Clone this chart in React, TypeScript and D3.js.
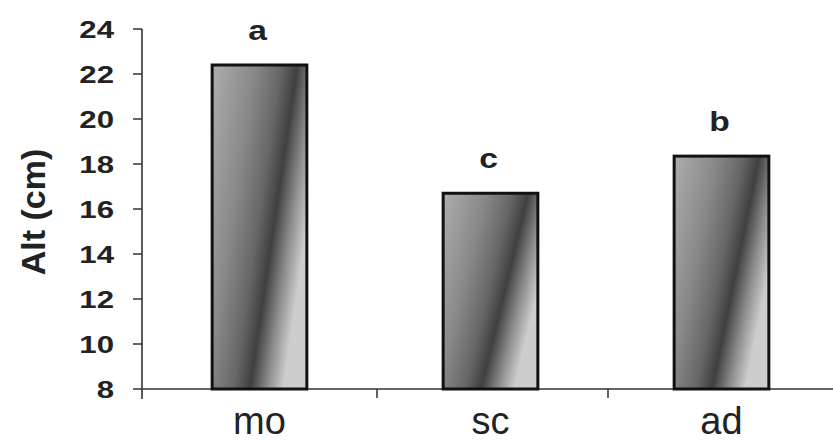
import React from "react";
import * as d3 from "d3";

const categories = ["mo", "sc", "ad"];
const values = [22.4, 16.7, 18.35];
const letters = ["a", "c", "b"];
const yTicks = [8, 10, 12, 14, 16, 18, 20, 22, 24];
const yLabel = "Alt (cm)";

export default function App() {
  const W = 833;
  const H = 445;
  const x0 = 142;
  const x = d3
    .scaleBand<string>()
    .domain(categories)
    .range([x0, x0 + 693])
    .paddingInner(0.59)
    .paddingOuter(0.295);
  const y = d3.scaleLinear().domain([8, 24]).range([389, 29]);
  const step = x.step();
  const font = "'Liberation Sans', Arial, sans-serif";

  return (
    <svg
      width={W}
      height={H}
      style={{ position: "absolute", left: 0, top: 0, background: "#fff" }}
    >
      <defs>
        <linearGradient id="barGrad" x1="0" y1="0" x2="1" y2="0.5">
          <stop offset="0" stopColor="#adadad" />
          <stop offset="0.35" stopColor="#8a8a8a" />
          <stop offset="0.58" stopColor="#676767" />
          <stop offset="0.72" stopColor="#404040" />
          <stop offset="0.86" stopColor="#8a8a8a" />
          <stop offset="1" stopColor="#cdcdcd" />
        </linearGradient>
      </defs>
      {/* y axis */}
      <line x1={x0} x2={x0} y1={y(24)} y2={y(8) + 10} stroke="#333" strokeWidth={1.6} />
      {yTicks.map((t) => (
        <g key={t}>
          <line x1={x0 - 9} x2={x0} y1={y(t)} y2={y(t)} stroke="#333" strokeWidth={1.5} />
          <text
            transform={`translate(${x0 - 28},${y(t)}) scale(1.3,1)`}
            dy="0.36em"
            textAnchor="end"
            fontFamily={font}
            fontSize={24}
            fontWeight="bold"
            fill="#222"
          >
            {t}
          </text>
        </g>
      ))}
      <text
        transform={`translate(45,212) rotate(-90)`}
        textAnchor="middle"
        fontFamily={font}
        fontSize={34}
        fontWeight="bold"
        fill="#222"
      >
        {yLabel}
      </text>
      {/* x axis */}
      <line x1={x0} x2={W} y1={y(8)} y2={y(8)} stroke="#333" strokeWidth={1.5} />
      {categories.slice(1).map((c) => (
        <line
          key={c}
          x1={(x(c) as number) - (step - x.bandwidth()) / 2 + 4}
          x2={(x(c) as number) - (step - x.bandwidth()) / 2 + 4}
          y1={y(8)}
          y2={y(8) + 9}
          stroke="#333"
          strokeWidth={1.5}
        />
      ))}
      {/* bars */}
      {categories.map((c, i) => (
        <g key={c}>
          <rect
            x={(x(c) as number) + 2}
            y={y(values[i])}
            width={x.bandwidth()}
            height={y(8) - y(values[i])}
            fill="url(#barGrad)"
            stroke="#111"
            strokeWidth={3}
          />
          <text
            transform={`translate(${(x(c) as number) + x.bandwidth() / 2},${y(values[i]) - 35}) scale(1.2,1)`}
            dy="0.36em"
            textAnchor="middle"
            fontFamily={font}
            fontSize={28}
            fontWeight="bold"
            fill="#222"
          >
            {letters[i]}
          </text>
          <text
            x={(x(c) as number) + x.bandwidth() / 2 + 2}
            y={434}
            textAnchor="middle"
            fontFamily={font}
            fontSize={38}
            fill="#222"
          >
            {c}
          </text>
        </g>
      ))}
    </svg>
  );
}
